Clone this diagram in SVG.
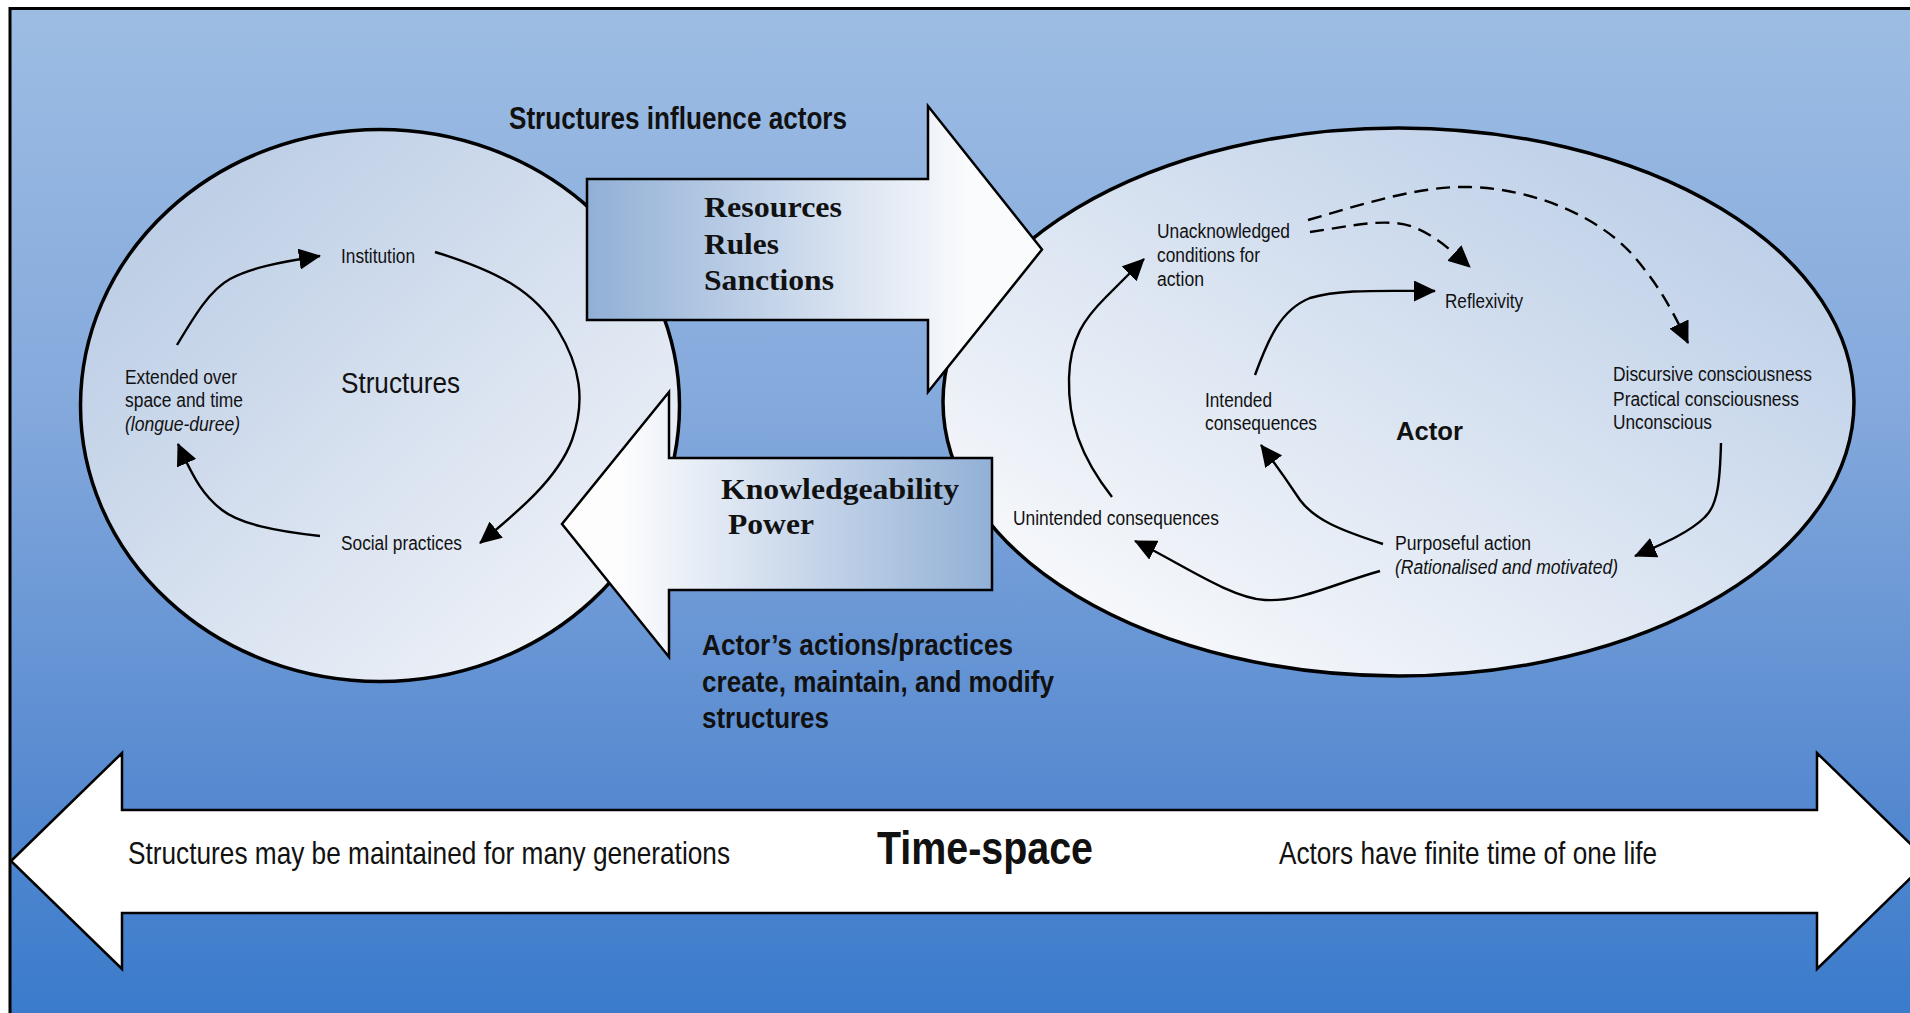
<svg xmlns="http://www.w3.org/2000/svg" width="1910" height="1013" viewBox="0 0 1910 1013">
  <defs>
    <linearGradient id="bg" x1="0" y1="0" x2="0" y2="1013" gradientUnits="userSpaceOnUse">
      <stop offset="0" stop-color="#9dbde3"/>
      <stop offset="0.4" stop-color="#84a9dc"/>
      <stop offset="0.75" stop-color="#5a8cd1"/>
      <stop offset="1" stop-color="#3a7bcb"/>
    </linearGradient>
    <linearGradient id="gStruct" x1="0" y1="0" x2="1" y2="1">
      <stop offset="0" stop-color="#b3c7e2"/>
      <stop offset="1" stop-color="#f7f8fb"/>
    </linearGradient>
    <linearGradient id="gActor" x1="1" y1="0" x2="0" y2="1">
      <stop offset="0" stop-color="#b3c8e4"/>
      <stop offset="0.9" stop-color="#f9fafc"/>
    </linearGradient>
    <linearGradient id="gRight" x1="590" y1="0" x2="970" y2="0" gradientUnits="userSpaceOnUse">
      <stop offset="0" stop-color="#92b0d6"/>
      <stop offset="1" stop-color="#fafbfd"/>
    </linearGradient>
    <linearGradient id="gLeft" x1="620" y1="0" x2="992" y2="0" gradientUnits="userSpaceOnUse">
      <stop offset="0" stop-color="#fdfdfe"/>
      <stop offset="1" stop-color="#92b0d6"/>
    </linearGradient>
    <marker id="head" markerUnits="userSpaceOnUse" viewBox="0 0 22 21" markerWidth="22" markerHeight="21" refX="21" refY="10.5" orient="auto">
      <path d="M0,0 L22,10.5 L0,21 Z" fill="#000"/>
    </marker>
    <style>
      text { font-family: "Liberation Sans", Arial, Helvetica, sans-serif; fill: #111; }
      .lbl { font-size: 20px; }
      .it { font-style: italic; }
      .b { font-weight: bold; }
      .serif { font-family: "Liberation Serif", "Times New Roman", serif; font-weight: bold; font-size: 30px; }
      .big { font-size: 32px; }
      .edge { fill: none; stroke: #000; stroke-width: 2.4; marker-end: url(#head); }
      .dash { stroke-dasharray: 14 8; }
      .shape { stroke: #000; stroke-width: 2.5; stroke-linejoin: miter; }
    </style>
  </defs>

  <!-- page and frame -->
  <rect x="0" y="0" width="1910" height="1013" fill="#ffffff"/>
  <rect x="10" y="8.5" width="1930" height="1030" fill="url(#bg)" stroke="#000" stroke-width="3"/>

  <!-- Structures ellipse -->
  <g id="structures">
    <ellipse cx="380" cy="405.5" rx="299.5" ry="276" fill="url(#gStruct)" stroke="#000" stroke-width="3.5"/>
    <text class="lbl" x="341" y="263" textLength="74" lengthAdjust="spacingAndGlyphs">Institution</text>
    <text x="341" y="393" font-size="30" textLength="119" lengthAdjust="spacingAndGlyphs">Structures</text>
    <text class="lbl" x="125" y="384" textLength="112" lengthAdjust="spacingAndGlyphs">Extended over</text>
    <text class="lbl" x="125" y="407" textLength="118" lengthAdjust="spacingAndGlyphs">space and time</text>
    <text class="lbl it" x="125" y="431" textLength="115" lengthAdjust="spacingAndGlyphs">(longue-duree)</text>
    <text class="lbl" x="341" y="550" textLength="121" lengthAdjust="spacingAndGlyphs">Social practices</text>
  </g>

  <!-- Actor ellipse -->
  <g id="actor">
    <ellipse cx="1398.5" cy="402" rx="455.5" ry="274" fill="url(#gActor)" stroke="#000" stroke-width="3.5"/>
    <text class="lbl" x="1157" y="238" textLength="133" lengthAdjust="spacingAndGlyphs">Unacknowledged</text>
    <text class="lbl" x="1157" y="262" textLength="103" lengthAdjust="spacingAndGlyphs">conditions for</text>
    <text class="lbl" x="1157" y="286" textLength="47" lengthAdjust="spacingAndGlyphs">action</text>
    <text class="lbl" x="1445" y="308" textLength="78" lengthAdjust="spacingAndGlyphs">Reflexivity</text>
    <text class="lbl" x="1613" y="381" textLength="199" lengthAdjust="spacingAndGlyphs">Discursive consciousness</text>
    <text class="lbl" x="1613" y="406" textLength="186" lengthAdjust="spacingAndGlyphs">Practical consciousness</text>
    <text class="lbl" x="1613" y="429" textLength="99" lengthAdjust="spacingAndGlyphs">Unconscious</text>
    <text class="lbl" x="1205" y="407" textLength="67" lengthAdjust="spacingAndGlyphs">Intended</text>
    <text class="lbl" x="1205" y="430" textLength="112" lengthAdjust="spacingAndGlyphs">consequences</text>
    <text class="b" x="1396" y="440" font-size="26" textLength="67" lengthAdjust="spacingAndGlyphs">Actor</text>
    <text class="lbl" x="1013" y="525" textLength="206" lengthAdjust="spacingAndGlyphs">Unintended consequences</text>
    <text class="lbl" x="1395" y="550" textLength="136" lengthAdjust="spacingAndGlyphs">Purposeful action</text>
    <text class="lbl it" x="1395" y="574" textLength="223" lengthAdjust="spacingAndGlyphs">(Rationalised and motivated)</text>
  </g>

  <!-- Structures influence actors -->
  <g id="influence">
    <path class="shape" fill="url(#gRight)" d="M587,179 L928,179 L928,106 L1042,249.5 L928,392 L928,320 L587,320 Z"/>
    <text class="serif" x="704" y="217" textLength="138" lengthAdjust="spacingAndGlyphs">Resources</text>
    <text class="serif" x="704" y="254" textLength="75" lengthAdjust="spacingAndGlyphs">Rules</text>
    <text class="serif" x="704" y="290" textLength="130" lengthAdjust="spacingAndGlyphs">Sanctions</text>
    <text class="b big" x="509" y="129" textLength="338" lengthAdjust="spacingAndGlyphs">Structures influence actors</text>
  </g>

  <!-- Actors' practices shape structures -->
  <g id="practices">
    <path class="shape" fill="url(#gLeft)" d="M992,458 L669,458 L669,392 L562,524 L669,657 L669,590 L992,590 Z"/>
    <text class="serif" x="721" y="499" textLength="238" lengthAdjust="spacingAndGlyphs">Knowledgeability</text>
    <text class="serif" x="728" y="534" textLength="86" lengthAdjust="spacingAndGlyphs">Power</text>
    <text class="b" x="702" y="655" font-size="29" textLength="311" lengthAdjust="spacingAndGlyphs">Actor’s actions/practices</text>
    <text class="b" x="702" y="692" font-size="29" textLength="352" lengthAdjust="spacingAndGlyphs">create, maintain, and modify</text>
    <text class="b" x="702" y="728" font-size="29" textLength="127" lengthAdjust="spacingAndGlyphs">structures</text>
  </g>

  <!-- Time-space band -->
  <g id="timespace">
    <path class="shape" fill="#ffffff" d="M11,861 L122,753 L122,810 L1817,810 L1817,753 L1928,861 L1817,969 L1817,913 L122,913 L122,969 Z"/>
    <text class="big" x="128" y="864" textLength="602" lengthAdjust="spacingAndGlyphs">Structures may be maintained for many generations</text>
    <text class="b" x="877" y="864" font-size="46" textLength="216" lengthAdjust="spacingAndGlyphs">Time-space</text>
    <text class="big" x="1279" y="864" textLength="378" lengthAdjust="spacingAndGlyphs">Actors have finite time of one life</text>
  </g>

  <!-- connectors -->
  <g id="connectors">
    <path class="edge" d="M177,345 C195,315 210,290 230,279 C250,268 280,262 320,256"/>
    <path class="edge" d="M435,252 C500,272 535,292 558,330 C580,366 586,400 572,440 C558,478 520,510 480,543"/>
    <path class="edge" d="M320,536 C275,531 240,524 222,510 C205,497 195,482 178,444"/>
    <path class="edge" d="M1112,497 C1080,456 1068,420 1069,378 C1070,338 1085,318 1106,297 L1144,259"/>
    <path class="edge" d="M1255,375 C1268,340 1280,310 1310,298 C1340,289 1380,291 1435,291"/>
    <path class="edge" d="M1383,544 C1340,530 1315,520 1300,500 C1290,485 1280,470 1261,445"/>
    <path class="edge" d="M1380,571 C1330,585 1300,602 1265,600 C1230,598 1180,563 1135,541"/>
    <path class="edge" d="M1721,443 C1720,480 1718,505 1705,517 C1690,532 1665,543 1635,556"/>
    <path class="edge dash" d="M1310,232 C1345,227 1370,221 1395,223 C1420,225 1440,240 1470,267"/>
    <path class="edge dash" d="M1308,220 C1370,202 1420,186 1469,187 C1540,189 1600,220 1630,252 C1655,280 1670,305 1688,343"/>
  </g>
</svg>
